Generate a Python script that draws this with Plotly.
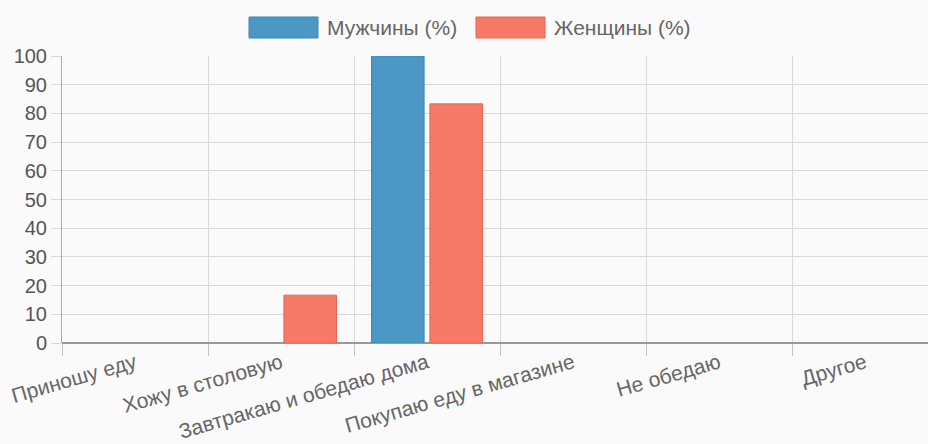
import plotly.graph_objects as go

categories = ["Приношу еду", "Хожу в столовую", "Завтракаю и обедаю дома",
              "Покупаю еду в магазине", "Не обедаю", "Другое"]
men_values = [0, 0, 100, 0, 0, 0]
women_values = [0, 16.67, 83.33, 0, 0, 0]
series_names = ["Мужчины (%)", "Женщины (%)"]
y_ticks = list(range(0, 101, 10))

W, H = 928, 444
L, R, T, B = 62, 0, 56, 101
pw, ph = W - L - R, H - T - B

blue_fill, blue_line = "#4d97c5", "#3a87b9"
red_fill, red_line = "#f67a67", "#ea6452"
font = "Liberation Sans, Arial, sans-serif"

fig = go.Figure()
fig.add_bar(x=categories, y=men_values, name=series_names[0],
            marker=dict(color=blue_fill,
                        line=dict(color=blue_line, width=[1 if v else 0 for v in men_values])),
            showlegend=False)
fig.add_bar(x=categories, y=women_values, name=series_names[1],
            marker=dict(color=red_fill,
                        line=dict(color=red_line, width=[1 if v else 0 for v in women_values])),
            showlegend=False)

# custom legend (wide boxes like the reference)
def px_x(p):
    return (p - L) / pw

def px_y(p):
    return (H - B - p) / ph

legend_items = [(249, blue_fill, blue_line, series_names[0]),
                (476, red_fill, red_line, series_names[1])]
for x0, fc, lc, label in legend_items:
    fig.add_shape(type="rect", xref="paper", yref="paper",
                  x0=px_x(x0), x1=px_x(x0 + 69), y0=px_y(38), y1=px_y(17),
                  fillcolor=fc, line=dict(color=lc, width=1))
    fig.add_annotation(xref="paper", yref="paper", x=px_x(x0 + 76), y=px_y(28),
                       text=label, showarrow=False, xanchor="left", yanchor="middle",
                       font=dict(family=font, size=21, color="#666"))

fig.update_layout(
    width=W, height=H,
    margin=dict(l=L, r=R, t=T, b=B),
    paper_bgcolor="#fafafa", plot_bgcolor="#fafafa",
    barmode="group", bargap=0.2, bargroupgap=0.1,
    font=dict(family=font, size=20, color="#666"),
)
fig.update_xaxes(
    type="category", range=[-0.5, -0.5 + pw / 146.0],
    tickson="boundaries", ticks="outside", ticklen=12, tickcolor="#c4c4c4",
    showgrid=True, gridcolor="#d9d9d9", gridwidth=1,
    tickangle=-16, tickfont=dict(size=21, color="#666"),
    ticklabelstandoff=3, automargin=False,
    showline=False,
)
fig.update_yaxes(
    range=[0, 100], tickvals=y_ticks, ticks="outside", ticklen=10,
    tickcolor="#d9d9d9", showgrid=True, gridcolor="#d9d9d9", gridwidth=1,
    showline=True, linecolor="#aaaaaa", linewidth=1,
    zeroline=True, zerolinecolor="#999999", zerolinewidth=1.5,
    tickfont=dict(size=20, color="#555"), automargin=False,
)
fig.write_html("out.html", config={"displayModeBar": False},
               post_script="document.body.style.margin='0';document.body.style.background='#fafafa';")
